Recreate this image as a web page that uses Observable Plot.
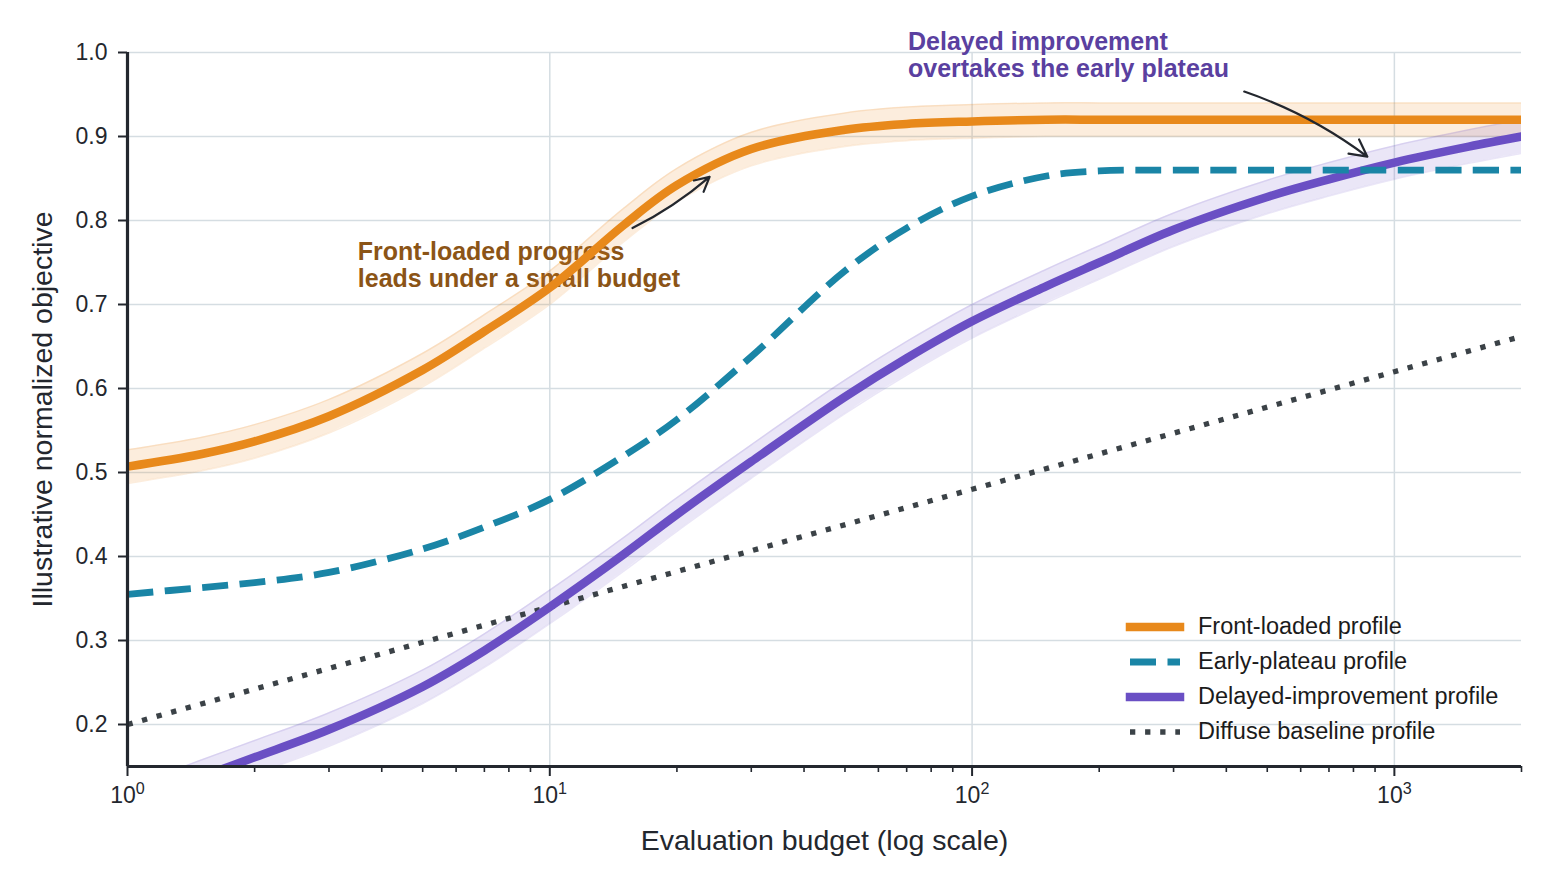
<!DOCTYPE html>
<html>
<head>
<meta charset="utf-8">
<script src="https://cdn.jsdelivr.net/npm/d3@7"></script>
<script src="https://cdn.jsdelivr.net/npm/@observablehq/plot@0.6"></script>
<style>
  html, body { margin: 0; padding: 0; background: #fff; }
  #wrap { position: relative; width: 1551px; height: 886px; font-family: "Liberation Sans", Arial, sans-serif; }
  #legend { position: absolute; left: 1120px; top: 609px; }
  .row { display: flex; align-items: center; height: 35px; }
  .row svg { width: 78px; height: 20px; display: block; }
  .row span { font-size: 23.5px; color: #1b1b1b; white-space: nowrap; }
</style>
</head>
<body>
<div id="wrap"></div>
<script>
// ---- data ----
const budgets = [1, 1.5, 2, 3, 5, 7, 10, 15, 20, 30, 50, 70, 100, 150, 200, 300, 500, 700, 1000, 1500, 2000];
const frontLoaded = [0.507, 0.522, 0.537, 0.567, 0.622, 0.668, 0.72, 0.795, 0.842, 0.885, 0.908, 0.915, 0.918, 0.92, 0.92, 0.92, 0.92, 0.92, 0.92, 0.92, 0.92];
const earlyPlateau = [0.355, 0.363, 0.369, 0.381, 0.409, 0.435, 0.468, 0.52, 0.563, 0.638, 0.74, 0.791, 0.829, 0.853, 0.859, 0.86, 0.86, 0.86, 0.86, 0.86, 0.86];
const delayedImprovement = [0.105, 0.138, 0.161, 0.194, 0.245, 0.288, 0.34, 0.403, 0.45, 0.513, 0.59, 0.636, 0.68, 0.722, 0.75, 0.789, 0.828, 0.849, 0.869, 0.888, 0.90];
const baselineBudgets = [1, 10, 100, 1000, 2000];
const diffuseBaseline = [0.2, 0.34, 0.48, 0.62, 0.662];
const bandHalfWidth = 0.02;

const seriesNames = ["Front-loaded profile", "Early-plateau profile", "Delayed-improvement profile", "Diffuse baseline profile"];

const yTicks = [0.2, 0.3, 0.4, 0.5, 0.6, 0.7, 0.8, 0.9, 1.0];
const xMajorTicks = [1, 10, 100, 1000];
const xTickLabels = ["10⁰", "10¹", "10²", "10³"];
const xMinorTicks = [2, 3, 4, 5, 6, 7, 8, 9, 20, 30, 40, 50, 60, 70, 80, 90, 200, 300, 400, 500, 600, 700, 800, 900, 2000];

const annotationTexts = ["Front-loaded progress\nleads under a small budget", "Delayed improvement\novertakes the early plateau"];
const annotationBudget = [3.51, 70.5];
const annotationValue = [0.747, 0.997];
const arrowFromBudget = [15.7, 441];
const arrowFromValue = [0.791, 0.9535];
const arrowToBudget = [23.9, 863];
const arrowToValue = [0.852, 0.876];

// ---- styling ----
const colors = ["#E8891B", "#1A85A6", "#6A4FC4", "#3B4247"];
const annotationColors = ["#8B5416", "#5A40A0"];
const ink = "#23272e";
const gridColor = "#d5dde2";
const smooth = "catmull-rom";

// ---- tables ----
const rows = budgets.map((b, i) => ({
  budget: b,
  front: frontLoaded[i],
  plateau: earlyPlateau[i],
  delayed: delayedImprovement[i]
}));
const baselineRows = baselineBudgets.map((b, i) => ({ budget: b, value: diffuseBaseline[i] }));
const annotations = annotationTexts.map((t, i) => ({ text: t, x: annotationBudget[i], y: annotationValue[i], color: annotationColors[i] }));
const arrows = arrowFromBudget.map((b, i) => ({ x1: b, y1: arrowFromValue[i], x2: arrowToBudget[i], y2: arrowToValue[i] }));
const labelMap = new Map(xMajorTicks.map((t, i) => [t, xTickLabels[i]]));

const chart = Plot.plot({
  width: 1551,
  height: 886,
  marginLeft: 127,
  marginRight: 30,
  marginTop: 52,
  marginBottom: 120,
  x: { type: "log", domain: [1, 2000] },
  y: { domain: [0.15, 1.0] },
  style: { fontFamily: '"Liberation Sans", Arial, sans-serif', fontSize: "23px", color: ink, background: "white", overflow: "visible" },
  marks: [
    Plot.gridY(yTicks, { stroke: gridColor, strokeOpacity: 1, strokeWidth: 1.5 }),
    Plot.gridX(xMajorTicks, { stroke: gridColor, strokeOpacity: 1, strokeWidth: 1.5 }),
    // annotation text drawn under the curves
    Plot.text(annotations.slice(0, 1), { x: "x", y: "y", text: "text", fill: "color", textAnchor: "start", lineAnchor: "middle", lineHeight: 1.08, fontSize: 25, fontWeight: "bold" }),
    // uncertainty bands
    Plot.areaY(rows, { x: "budget", y1: d => d.front - bandHalfWidth, y2: d => d.front + bandHalfWidth, fill: colors[0], fillOpacity: 0.15, curve: smooth, clip: true }),
    Plot.lineY(rows, { x: "budget", y: d => d.front - bandHalfWidth, stroke: colors[0], strokeOpacity: 0.15, strokeWidth: 1.5, curve: smooth, clip: true }),
    Plot.lineY(rows, { x: "budget", y: d => d.front + bandHalfWidth, stroke: colors[0], strokeOpacity: 0.15, strokeWidth: 1.5, curve: smooth, clip: true }),
    Plot.areaY(rows, { x: "budget", y1: d => d.delayed - bandHalfWidth, y2: d => d.delayed + bandHalfWidth, fill: colors[2], fillOpacity: 0.14, curve: smooth, clip: true }),
    Plot.lineY(rows, { x: "budget", y: d => d.delayed - bandHalfWidth, stroke: colors[2], strokeOpacity: 0.14, strokeWidth: 1.5, curve: smooth, clip: true }),
    Plot.lineY(rows, { x: "budget", y: d => d.delayed + bandHalfWidth, stroke: colors[2], strokeOpacity: 0.14, strokeWidth: 1.5, curve: smooth, clip: true }),
    // curves
    Plot.lineY(baselineRows, { x: "budget", y: "value", stroke: colors[3], strokeWidth: 5.3, strokeDasharray: "5.3 9.8", strokeLinecap: "butt", clip: true }),
    Plot.lineY(rows, { x: "budget", y: "delayed", stroke: colors[2], strokeWidth: 8.5, curve: smooth, clip: true }),
    Plot.lineY(rows, { x: "budget", y: "plateau", stroke: colors[1], strokeWidth: 6.8, strokeDasharray: "26 11.5", strokeLinecap: "butt", curve: smooth, clip: true }),
    Plot.lineY(rows, { x: "budget", y: "front", stroke: colors[0], strokeWidth: 8.5, curve: smooth, clip: true }),
    Plot.text(annotations.slice(1), { x: "x", y: "y", text: "text", fill: "color", textAnchor: "start", lineAnchor: "middle", lineHeight: 1.08, fontSize: 25, fontWeight: "bold" }),
    // arrows
    Plot.arrow(arrows.slice(0, 1), { x1: "x1", y1: "y1", x2: "x2", y2: "y2", bend: -7, stroke: ink, strokeWidth: 2.2, headLength: 11, headAngle: 55 }),
    Plot.arrow(arrows.slice(1), { x1: "x1", y1: "y1", x2: "x2", y2: "y2", bend: 9, stroke: ink, strokeWidth: 2.2, headLength: 13, headAngle: 55 }),
    // axes
    Plot.axisY(yTicks, { tickSize: 9, tickPadding: 11, strokeWidth: 2, stroke: ink, tickFormat: d3.format(".1f"), label: null }),
    Plot.axisX(xMajorTicks, { tickSize: 10, tickPadding: 10, strokeWidth: 2, stroke: ink, tickFormat: d => labelMap.get(d), label: null }),
    Plot.axisX(xMinorTicks, { tickSize: 6, strokeWidth: 1.6, stroke: ink, tickFormat: () => "", label: null }),
    Plot.ruleX([1], { stroke: ink, strokeWidth: 3.2 }),
    Plot.ruleY([0.15], { stroke: ink, strokeWidth: 3.2 }),
    Plot.text(["Evaluation budget (log scale)"], { frameAnchor: "bottom", textAnchor: "middle", dy: 74, fontSize: 28.5, fill: ink, lineAnchor: "middle" }),
    Plot.text(["Illustrative normalized objective"], { frameAnchor: "left", textAnchor: "middle", dx: -85, rotate: -90, fontSize: 28.5, fill: ink, lineAnchor: "middle" })
  ]
});

// render superscripts in the log tick labels
const supMap = { "⁰": "0", "¹": "1", "²": "2", "³": "3" };
chart.querySelectorAll('g[aria-label="x-axis tick label"] text').forEach(t => {
  const s = t.textContent;
  if (!s) return;
  const base = s.replace(/[⁰¹²³]/g, "");
  const exp = s.replace(/[^⁰¹²³]/g, "").split("").map(c => supMap[c]).join("");
  t.textContent = base;
  const ts = document.createElementNS("http://www.w3.org/2000/svg", "tspan");
  ts.setAttribute("dy", "-0.55em");
  ts.setAttribute("font-size", "0.7em");
  ts.textContent = exp;
  t.appendChild(ts);
});

const wrap = document.getElementById("wrap");
wrap.appendChild(chart);

// legend (inside the plot area, lower right)
const legend = document.createElement("div");
legend.id = "legend";
const dash = [null, "26 11.5", null, "5.3 9.8"];
const widths = [8.5, 6.8, 8.5, 5.3];
const caps = ["square", "butt", "square", "butt"];
seriesNames.forEach((name, i) => {
  const row = document.createElement("div");
  row.className = "row";
  row.innerHTML = `<svg viewBox="0 0 78 20"><line x1="10" x2="60" y1="10" y2="10" stroke="${colors[i]}" stroke-width="${widths[i]}" stroke-linecap="${caps[i]}" ${dash[i] ? `stroke-dasharray="${dash[i]}"` : ""}/></svg><span>${name}</span>`;
  legend.appendChild(row);
});
wrap.appendChild(legend);
</script>
</body>
</html>
